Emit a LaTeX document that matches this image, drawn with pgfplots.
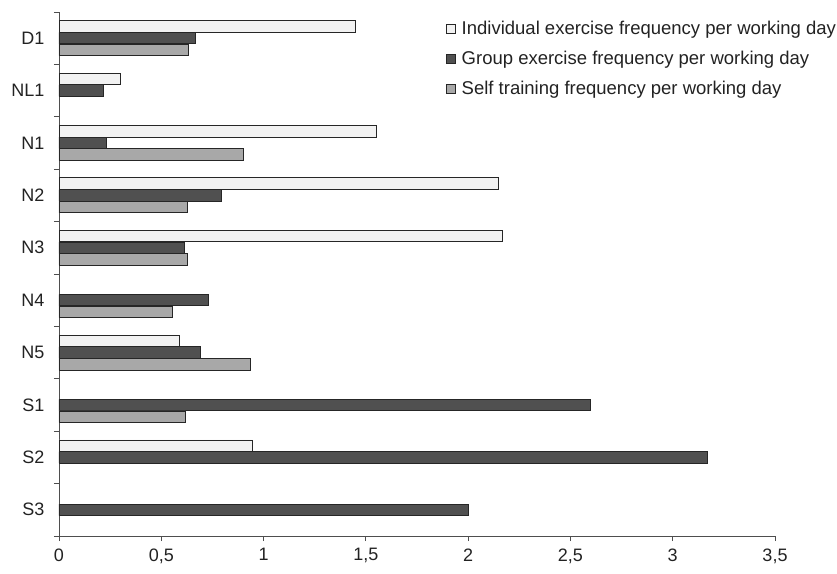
\documentclass[border=0pt]{standalone}
\usepackage{fontspec}
\setmainfont{Liberation Sans}
\usepackage{pgfplots}
\pgfplotsset{compat=1.18}
\definecolor{indiv}{HTML}{F2F2F2}
\definecolor{group}{HTML}{505050}
\definecolor{self}{HTML}{A8A8A8}
\definecolor{edge}{HTML}{262626}
\definecolor{txt}{HTML}{222222}
\begin{document}
\begin{tikzpicture}
\useasboundingbox (-59pt,-37pt) rectangle (778pt,536pt);
\begin{axis}[
  at={(0,0)}, anchor=south west,
  scale only axis, width=716pt, height=524pt,
  xbar, bar width=11.5pt,
  xmin=0, xmax=3.5, ymin=-0.5, ymax=9.5,
  axis lines=left, axis line style={-, draw=txt!80, line width=0.8pt},
  xtick={0,0.5,...,3.5},
  /pgf/number format/use comma,
  /pgf/number format/assume math mode=true,
  ytick={0,...,9},
  yticklabels={S3,S2,S1,N5,N4,N3,N2,N1,NL1,D1},
  minor ytick={-0.5,0.5,...,9.5},
  tick align=outside,
  major tick length=5pt, minor tick length=5pt,
  y tick style={draw=none},
  minor y tick style={draw=txt!80, line width=0.8pt},
  x tick style={draw=txt!80, line width=0.8pt},
  tick label style={font=\fontsize{18}{21}\selectfont, text=txt},
  xticklabel style={yshift=-4pt},
  yticklabel style={xshift=-6pt},
  legend style={at={(rel axis cs:0.536,0.99)}, anchor=north west, draw=none, fill=none,
    font=\fontsize{18.5}{21}\selectfont, text=txt, row sep=11pt},
  legend cell align=left,
  legend image code/.code={\draw[#1, draw=edge, line width=0.6pt] (0pt,-4.5pt) rectangle (9pt,4.5pt);
    \path (13pt,0pt);},
]
\addplot[fill=indiv, draw=edge, line width=0.9pt, bar shift=11.7pt] coordinates {
  (0.945,1) (0.59,3) (2.17,5) (2.15,6) (1.55,7) (0.30,8) (1.45,9)};
\addplot[fill=group, draw=edge, line width=0.9pt, bar shift=0pt] coordinates {
  (2.00,0) (3.17,1) (2.60,2) (0.689,3) (0.732,4) (0.612,5) (0.793,6) (0.231,7) (0.218,8) (0.668,9)};
\addplot[fill=self, draw=edge, line width=0.9pt, bar shift=-11.7pt] coordinates {
  (0.619,2) (0.937,3) (0.556,4) (0.626,5) (0.626,6) (0.90,7) (0.632,9)};
\legend{Individual exercise frequency per working day, Group exercise frequency per working day, Self training frequency per working day}
\end{axis}
\end{tikzpicture}
\end{document}
